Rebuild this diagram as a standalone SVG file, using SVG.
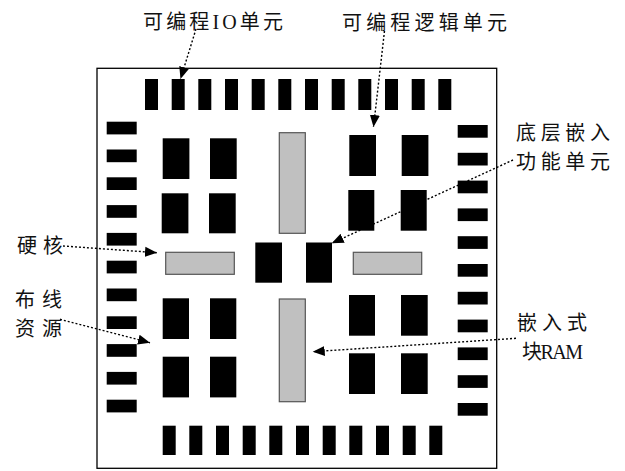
<svg xmlns="http://www.w3.org/2000/svg" width="625" height="471" viewBox="0 0 625 471">
<defs>
<style>
.blk{fill:#000;}
.gray{fill:#c0c0c0;stroke:#555;stroke-width:1.2;}
.lbl{font-family:"Noto Sans CJK SC","Liberation Serif",serif;font-size:20px;fill:#111;}
.lat{font-family:"Liberation Serif",serif;}
.conn{fill:none;stroke:#000;stroke-width:1.4;stroke-dasharray:2,2;}
</style>
<marker id="ah" markerUnits="userSpaceOnUse" markerWidth="14" markerHeight="12" refX="12" refY="5" orient="auto" viewBox="0 0 14 10">
<path d="M0,0 L12,5 L0,10 z" fill="#000"/>
</marker>
</defs>
<rect width="625" height="471" fill="#fff"/>
<g id="frame"><rect x="97" y="68.3" width="399.7" height="400" fill="#fff" stroke="#000" stroke-width="1.3"/></g>
<g id="io-top">
<rect class="blk" x="145" y="79" width="13" height="31"/>
<rect class="blk" x="171.7" y="79" width="13" height="31"/>
<rect class="blk" x="198.3" y="79" width="13" height="31"/>
<rect class="blk" x="225" y="79" width="13" height="31"/>
<rect class="blk" x="251.7" y="79" width="13" height="31"/>
<rect class="blk" x="278.3" y="79" width="13" height="31"/>
<rect class="blk" x="305" y="79" width="13" height="31"/>
<rect class="blk" x="331.7" y="79" width="13" height="31"/>
<rect class="blk" x="358.3" y="79" width="13" height="31"/>
<rect class="blk" x="385" y="79" width="13" height="31"/>
<rect class="blk" x="411.7" y="79" width="13" height="31"/>
<rect class="blk" x="438.3" y="79" width="13" height="31"/>
</g>
<g id="io-bottom">
<rect class="blk" x="162.7" y="425.7" width="13" height="29.3"/>
<rect class="blk" x="189.3" y="425.7" width="13" height="29.3"/>
<rect class="blk" x="216" y="425.7" width="13" height="29.3"/>
<rect class="blk" x="242.7" y="425.7" width="13" height="29.3"/>
<rect class="blk" x="269.3" y="425.7" width="13" height="29.3"/>
<rect class="blk" x="296" y="425.7" width="13" height="29.3"/>
<rect class="blk" x="322.7" y="425.7" width="13" height="29.3"/>
<rect class="blk" x="349.3" y="425.7" width="13" height="29.3"/>
<rect class="blk" x="376" y="425.7" width="13" height="29.3"/>
<rect class="blk" x="402.7" y="425.7" width="13" height="29.3"/>
<rect class="blk" x="429.3" y="425.7" width="13" height="29.3"/>
</g>
<g id="io-left">
<rect class="blk" x="106.7" y="121.7" width="30" height="12.7"/>
<rect class="blk" x="106.7" y="149.5" width="30" height="12.7"/>
<rect class="blk" x="106.7" y="177.3" width="30" height="12.7"/>
<rect class="blk" x="106.7" y="205.1" width="30" height="12.7"/>
<rect class="blk" x="106.7" y="232.9" width="30" height="12.7"/>
<rect class="blk" x="106.7" y="260.7" width="30" height="12.7"/>
<rect class="blk" x="106.7" y="288.5" width="30" height="12.7"/>
<rect class="blk" x="106.7" y="316.3" width="30" height="12.7"/>
<rect class="blk" x="106.7" y="344.1" width="30" height="12.7"/>
<rect class="blk" x="106.7" y="371.9" width="30" height="12.7"/>
<rect class="blk" x="106.7" y="399.7" width="30" height="12.7"/>
</g>
<g id="io-right">
<rect class="blk" x="457.7" y="125" width="30" height="12.7"/>
<rect class="blk" x="457.7" y="152.8" width="30" height="12.7"/>
<rect class="blk" x="457.7" y="180.6" width="30" height="12.7"/>
<rect class="blk" x="457.7" y="208.4" width="30" height="12.7"/>
<rect class="blk" x="457.7" y="236.2" width="30" height="12.7"/>
<rect class="blk" x="457.7" y="264" width="30" height="12.7"/>
<rect class="blk" x="457.7" y="291.8" width="30" height="12.7"/>
<rect class="blk" x="457.7" y="319.6" width="30" height="12.7"/>
<rect class="blk" x="457.7" y="347.4" width="30" height="12.7"/>
<rect class="blk" x="457.7" y="375.2" width="30" height="12.7"/>
<rect class="blk" x="457.7" y="403" width="30" height="12.7"/>
</g>
<g id="logic-tl">
<rect class="blk" x="162.7" y="138.3" width="26.7" height="40.7"/>
<rect class="blk" x="210" y="138.3" width="26.7" height="40.7"/>
<rect class="blk" x="161.7" y="193.3" width="26.7" height="40"/>
<rect class="blk" x="209" y="193.3" width="26.7" height="40"/>
</g>
<g id="logic-bl">
<rect class="blk" x="162.7" y="298.3" width="26.3" height="40.7"/>
<rect class="blk" x="210" y="298.3" width="26.3" height="40.7"/>
<rect class="blk" x="162.7" y="356.7" width="26.3" height="40.7"/>
<rect class="blk" x="210" y="356.7" width="26.3" height="40.7"/>
</g>
<g id="logic-tr">
<rect class="blk" x="349.3" y="135" width="26.7" height="41"/>
<rect class="blk" x="401.7" y="135" width="26.7" height="41"/>
<rect class="blk" x="348.3" y="190" width="26" height="40.7"/>
<rect class="blk" x="400.7" y="190" width="26" height="40.7"/>
</g>
<g id="logic-br">
<rect class="blk" x="349" y="295" width="26" height="40.7"/>
<rect class="blk" x="401" y="295" width="26.7" height="40.7"/>
<rect class="blk" x="349" y="353.3" width="26" height="40.7"/>
<rect class="blk" x="401" y="353.3" width="26.7" height="40.7"/>
</g>
<g id="embedded">
<rect class="blk" x="255.3" y="242.5" width="26.7" height="40.2"/>
<rect class="blk" x="306" y="242.5" width="26" height="40.2"/>
</g>
<g id="ram">
<rect class="gray" x="279.3" y="132.7" width="26" height="100.6"/>
<rect class="gray" x="279.3" y="299" width="26" height="102.7"/>
</g>
<g id="hardcore">
<rect class="gray" x="165.7" y="252.3" width="68.6" height="22"/>
<rect class="gray" x="353.3" y="252.3" width="68.4" height="22"/>
</g>
<g id="connectors">
<line class="conn" x1="196" y1="29" x2="180.5" y2="79" marker-end="url(#ah)"/>
<line class="conn" x1="384.5" y1="31" x2="373.5" y2="127" marker-end="url(#ah)"/>
<line class="conn" x1="513" y1="160" x2="331.7" y2="243.3" marker-end="url(#ah)"/>
<line class="conn" x1="63" y1="246" x2="157" y2="252.7" marker-end="url(#ah)"/>
<line class="conn" x1="60" y1="319.3" x2="150" y2="342.7" marker-end="url(#ah)"/>
<line class="conn" x1="516" y1="338.3" x2="312.7" y2="351.7" marker-end="url(#ah)"/>
</g>
<g id="labels">
<text class="lbl" x="143" y="29" textLength="140" lengthAdjust="spacing">可编程<tspan class="lat">IO</tspan>单元</text>
<text class="lbl" x="342" y="30" textLength="165" lengthAdjust="spacing">可编程逻辑单元</text>
<text class="lbl" x="516" y="139.5" textLength="94" lengthAdjust="spacing">底层嵌入</text>
<text class="lbl" x="516" y="168.5" textLength="94" lengthAdjust="spacing">功能单元</text>
<text class="lbl" x="17" y="253" textLength="46" lengthAdjust="spacing">硬核</text>
<text class="lbl" x="15" y="307" textLength="47" lengthAdjust="spacing">布线</text>
<text class="lbl" x="15" y="336" textLength="47" lengthAdjust="spacing">资源</text>
<text class="lbl" x="517" y="330" textLength="70" lengthAdjust="spacing">嵌入式</text>
<text class="lbl" x="522" y="359" textLength="61" lengthAdjust="spacing">块<tspan class="lat">RAM</tspan></text>
</g>
</svg>
